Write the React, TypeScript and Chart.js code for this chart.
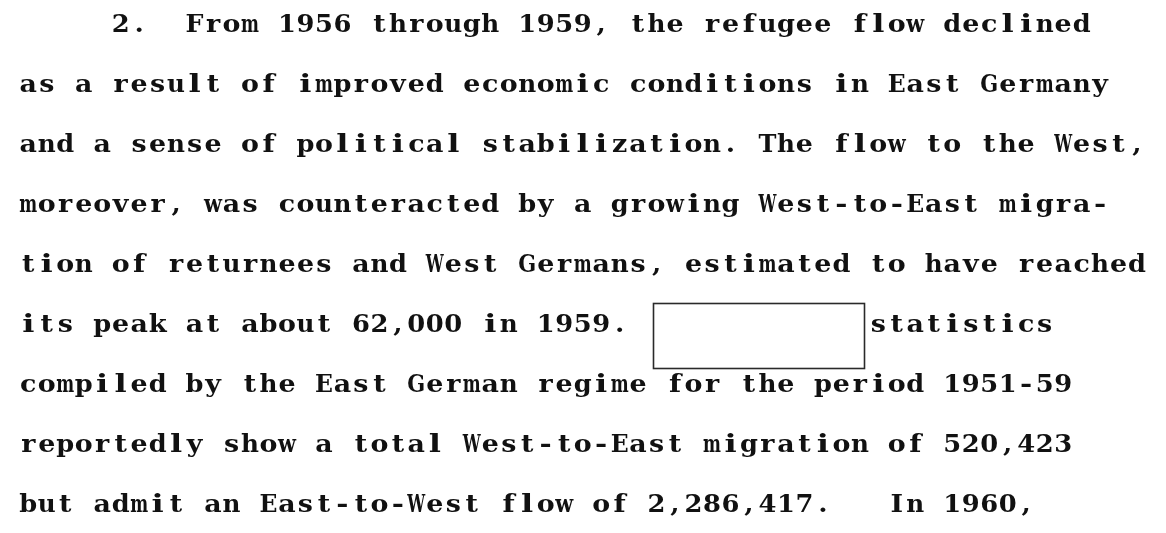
import React, { useEffect, useRef } from "react";
import { Chart, registerables } from "chart.js";

Chart.register(...registerables);

// Typed paragraph, one entry per typewriter line (monospaced columns)
const paragraphLines: string[] = [
  "     2.  From 1956 through 1959, the refugee flow declined",
  "as a result of improved economic conditions in East Germany",
  "and a sense of political stabilization. The flow to the West,",
  "moreover, was counteracted by a growing West-to-East migra-",
  "tion of returnees and West Germans, estimated to have reached",
  "its peak at about 62,000 in 1959.             statistics",
  "compiled by the East German regime for the period 1951-59",
  "reportedly show a total West-to-East migration of 520,423",
  "but admit an East-to-West flow of 2,286,417.   In 1960,",
];

// Redaction box on line 6 (in character columns / line index)
const redactionLine = 5;
const redactionStartCol = 34.3;
const redactionEndCol = 45.7;

const W = 1166;
const H = 533;

const typewriterPlugin = {
  id: "typewriterText",
  afterDraw(chart: any) {
    const ctx: CanvasRenderingContext2D = chart.ctx;
    const left = 19;
    const pitch = 18.48;
    const firstBaseline = 32;
    const lineGap = 60;
    ctx.save();
    ctx.fillStyle = "#ffffff";
    ctx.fillRect(0, 0, chart.width, chart.height);
    ctx.font = 'bold 24px "DejaVu Serif", "Liberation Serif", serif';
    ctx.fillStyle = "#111111";
    ctx.textAlign = "center";
    ctx.textBaseline = "alphabetic";
    const maxW = pitch * 0.97;
    const minW = pitch * 0.66;
    const baseScale = 1.12;
    paragraphLines.forEach((line, i) => {
      const y = firstBaseline + i * lineGap;
      for (let j = 0; j < line.length; j++) {
        const ch = line[j];
        if (ch === " ") continue;
        const cx = left + j * pitch + pitch / 2;
        const w = ctx.measureText(ch).width;
        let sx = baseScale;
        if (w * sx > maxW) sx = maxW / w;
        else if (w * sx < minW && /[a-zA-Z0-9\-]/.test(ch)) sx = Math.min(minW / w, 1.7);
        ctx.save();
        ctx.translate(cx, y);
        ctx.scale(sx, 1);
        ctx.fillText(ch, 0, 0);
        ctx.restore();
      }
    });
    // redaction box
    const bx = left + redactionStartCol * pitch;
    const bx2 = left + redactionEndCol * pitch;
    const by = firstBaseline + redactionLine * lineGap - 29;
    const bh = 65;
    ctx.strokeStyle = "#2a2a2a";
    ctx.lineWidth = 1.6;
    ctx.strokeRect(Math.round(bx) + 0.5, by + 0.5, Math.round(bx2 - bx), bh);
    ctx.restore();
  },
};

export default function App() {
  const canvasRef = useRef<HTMLCanvasElement | null>(null);

  useEffect(() => {
    if (!canvasRef.current) return;
    const chart = new Chart(canvasRef.current, {
      type: "line",
      data: { labels: [], datasets: [] },
      options: {
        responsive: false,
        animation: false,
        devicePixelRatio: 1,
        layout: { padding: 0 },
        scales: { x: { display: false }, y: { display: false } },
        plugins: {
          legend: { display: false },
          tooltip: { enabled: false },
          title: { display: false },
        },
      },
      plugins: [typewriterPlugin],
    });
    return () => chart.destroy();
  }, []);

  return (
    <div
      style={{
        position: "fixed",
        left: 0,
        top: 0,
        width: W,
        height: H,
        background: "#ffffff",
      }}
    >
      <canvas ref={canvasRef} width={W} height={H} style={{ width: W, height: H, display: "block" }} />
    </div>
  );
}
